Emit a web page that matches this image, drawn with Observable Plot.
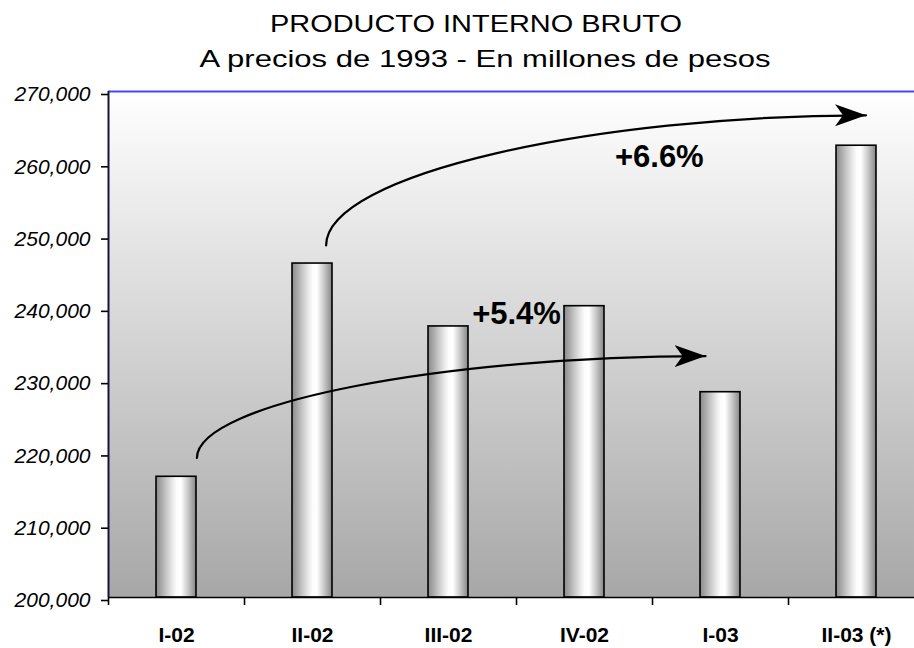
<!DOCTYPE html>
<html>
<head>
<meta charset="utf-8">
<script src="https://cdn.jsdelivr.net/npm/d3@7"></script>
<script src="https://cdn.jsdelivr.net/npm/@observablehq/plot@0.6"></script>
<style>
  html, body { margin: 0; padding: 0; background: #ffffff; }
  body { width: 914px; height: 648px; overflow: hidden; font-family: "Liberation Sans", Arial, sans-serif; }
  #title { height: 80px; box-sizing: border-box; padding-top: 6px; }
  .tline { width: 914px; text-align: center; font-size: 24px; line-height: 35px; color: #000; white-space: nowrap; }
  #chart svg { display: block; }
</style>
</head>
<body>
<div id="title">
  <div class="tline" id="t1">PRODUCTO INTERNO BRUTO</div>
  <div class="tline" id="t2">A precios de 1993 - En millones de pesos</div>
</div>
<div id="chart"></div>
<script>
// ---- data ----
const categories = ["I-02", "II-02", "III-02", "IV-02", "I-03", "II-03 (*)"];
const values = [216700, 246200, 237500, 240300, 228400, 262500];
const yTicks = [200000, 210000, 220000, 230000, 240000, 250000, 260000, 270000];
const growthLabels = ["+5.4%", "+6.6%"];
const growthX = [3.0, 4.05];
const growthY = [239200, 260900];
// arrow endpoints (x in category-slot units, y in millions of pesos)
const arrowId = ["a1", "a1", "a2", "a2"];
const arrowX = [0.65, 4.39, 1.6, 5.57];
const arrowY = [219300, 233400, 248700, 266700];

// ---- tables built from the arrays ----
const bars = categories.map((c, i) => ({cat: c, i, value: values[i]}));
const arrows = arrowId.map((id, k) => ({id, x: arrowX[k], y: arrowY[k]}));
const notes = growthLabels.map((t, k) => ({text: t, x: growthX[k], y: growthY[k]}));
const half = 0.147;
const xMax = 806 / 136;

// custom curve: steep start, flat end
function swoosh(context) {
  let pts = [];
  return {
    areaStart() {}, areaEnd() {},
    lineStart() { pts = []; },
    point(x, y) { pts.push([+x, +y]); },
    lineEnd() {
      if (pts.length < 2) return;
      const [x0, y0] = pts[0], [x1, y1] = pts[pts.length - 1];
      const dx = x1 - x0, dy = y1 - y0;
      context.moveTo(x0, y0);
      context.bezierCurveTo(x0, y0 + 0.55 * dy, x0 + 0.5 * dx, y1, x1, y1);
    }
  };
}

const font = '"Liberation Sans", Arial, sans-serif';

const chart = Plot.plot({
  width: 914,
  height: 568,
  marginTop: 11,
  marginBottom: 51,
  marginLeft: 108,
  marginRight: 0,
  style: {fontFamily: font, background: "transparent", overflow: "visible"},
  x: {type: "linear", domain: [0, xMax], label: null},
  y: {domain: [200000, 270000], label: null},
  marks: [
    Plot.frame({fill: "url(#bgGrad)", stroke: "none"}),
    Plot.rectY(bars, {
      x1: d => d.i + 0.5 - half,
      x2: d => d.i + 0.5 + half,
      y1: 200000,
      y2: "value",
      fill: "url(#barGrad)",
      stroke: "#000",
      strokeWidth: 1.6
    }),
    Plot.ruleY([270000], {stroke: "#4646ff", strokeWidth: 2}),
    Plot.ruleY([200000], {stroke: "#000", strokeWidth: 1.6}),
    Plot.ruleX([0], {stroke: "#14143c", strokeWidth: 2}),
    Plot.axisY(yTicks, {
      anchor: "left", tickSize: 7, tickPadding: 11, strokeWidth: 1.6,
      tickFormat: d3.format(","), fontSize: 21, fontStyle: "italic", dy: 3
    }),
    Plot.axisX([0, 1, 2, 3, 4, 5], {
      anchor: "bottom", tickSize: 8, strokeWidth: 1.6, tickFormat: () => ""
    }),
    Plot.axisX(categories.map((c, i) => i + 0.5), {
      anchor: "bottom", tickSize: 0, tickPadding: 30,
      tickFormat: d => categories[Math.floor(d)], fontSize: 21, fontWeight: "bold"
    }),
    Plot.line(arrows, {x: "x", y: "y", z: "id", curve: swoosh, stroke: "#000", strokeWidth: 2.2}),
    Plot.text(notes, {x: "x", y: "y", text: "text", fontSize: 31, fontWeight: "bold", fill: "#000"})
  ]
});

// gradients and arrowhead
const svg = d3.select(chart);
const defs = svg.insert("defs", ":first-child");
const bg = defs.append("linearGradient").attr("id", "bgGrad")
  .attr("x1", 0).attr("y1", 0).attr("x2", 0).attr("y2", 1);
bg.append("stop").attr("offset", "0%").attr("stop-color", "#ffffff");
bg.append("stop").attr("offset", "100%").attr("stop-color", "#a7a7a7");
const bar = defs.append("linearGradient").attr("id", "barGrad")
  .attr("x1", 0).attr("y1", 0).attr("x2", 1).attr("y2", 0);
[["0%", "#8a8a8a"], ["18%", "#b4b4b4"], ["35%", "#dcdcdc"], ["50%", "#fbfbfb"], ["62%", "#ffffff"],
 ["78%", "#cfcfcf"], ["90%", "#a8a8a8"], ["100%", "#858585"]]
  .forEach(([o, c]) => bar.append("stop").attr("offset", o).attr("stop-color", c));
defs.append("marker").attr("id", "ahead")
  .attr("viewBox", "0 -12 32 24").attr("markerUnits", "userSpaceOnUse")
  .attr("markerWidth", 32).attr("markerHeight", 24)
  .attr("refX", 31).attr("refY", 0).attr("orient", "auto")
  .append("path").attr("d", "M0,-11L31,0L0,11L8,0Z").attr("fill", "#000");
svg.selectAll('g[aria-label="line"] path').attr("marker-end", "url(#ahead)");

document.getElementById("chart").appendChild(chart);

// stretch the title lines to the reference width
function fit(id, targetWidth, centerX) {
  const el = document.getElementById(id);
  const r = document.createRange();
  r.selectNodeContents(el);
  const w = r.getBoundingClientRect().width;
  const s = targetWidth / w;
  el.style.transform = `translateX(${centerX - 457}px) scaleX(${s})`;
}
fit("t1", 412, 476);
fit("t2", 571, 485);
</script>
</body>
</html>
